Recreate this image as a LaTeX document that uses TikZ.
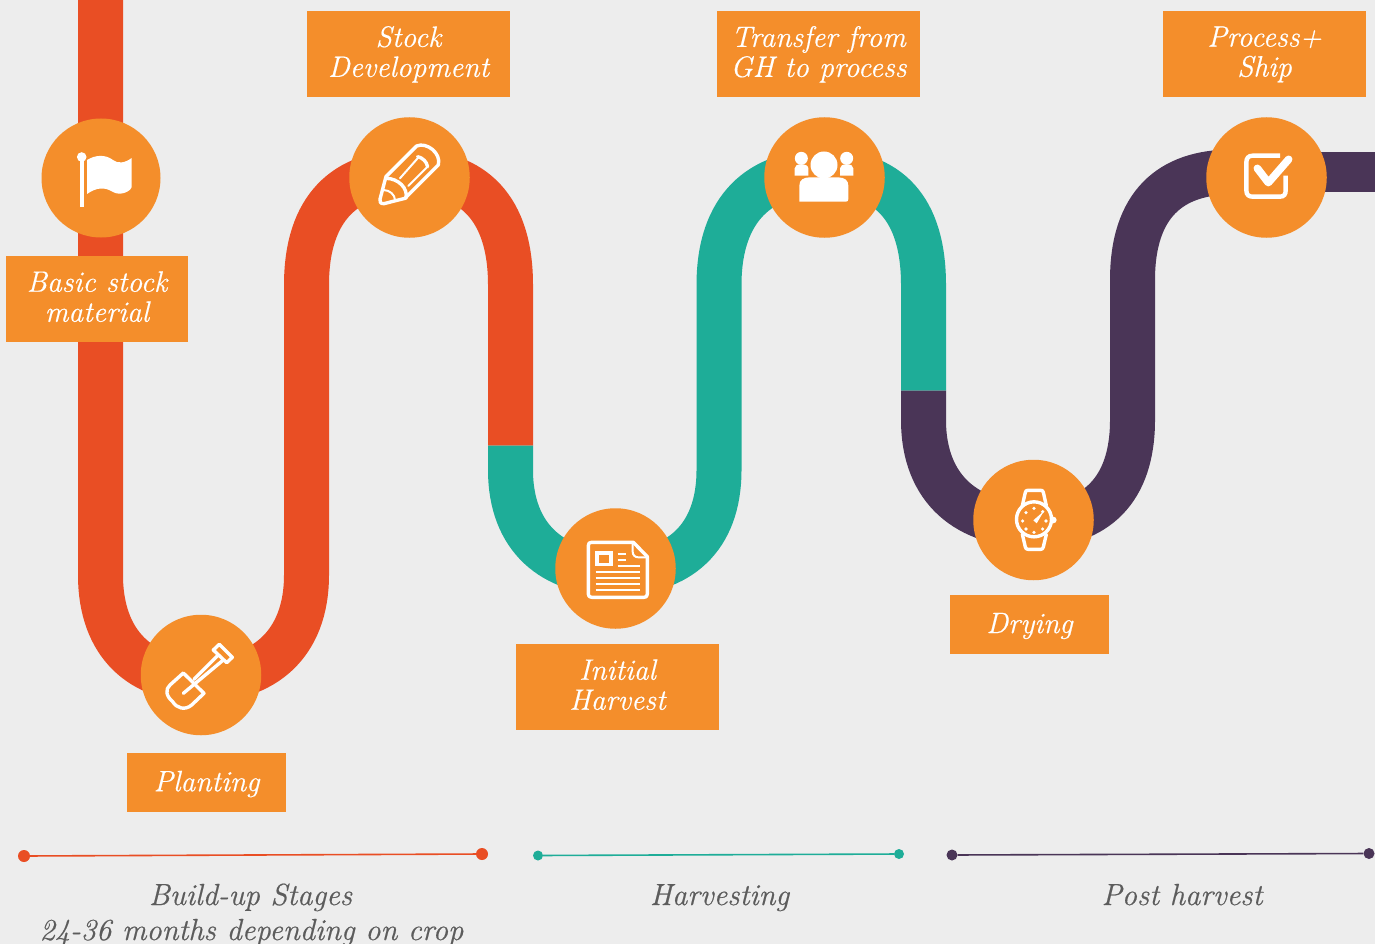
\documentclass[tikz,border=0pt]{standalone}
\usepackage{fontspec}
\setmainfont{Latin Modern Roman}[ItalicFeatures={FakeBold=0.5}]
\definecolor{bgc}{HTML}{EDEDED}
\definecolor{orangec}{HTML}{F48E2B}
\definecolor{redc}{HTML}{E94E24}
\definecolor{tealc}{HTML}{1EAD98}
\definecolor{purplec}{HTML}{4A3557}
\definecolor{textc}{HTML}{5C5C5C}
\tikzset{
  ribbon/.style={line width=45pt},
  hub/.style={circle,fill=orangec,minimum size=120.5pt,inner sep=0pt},
  tag/.style={fill=orangec,text=white,inner sep=0pt,align=center,font=\fontsize{29.5}{30}\selectfont\itshape},
  tagtwo/.style={tag,minimum height=86pt,text depth=5pt},
  tagone/.style={tag,minimum width=159pt,minimum height=59pt,text depth=3pt},
  caption/.style={text=textc,inner sep=0pt,align=center,font=\fontsize{30.5}{35}\selectfont\itshape},
  dot/.style={circle,inner sep=0pt,minimum size=11pt},
  ico/.style={draw=white,line width=3.4pt,line join=round,line cap=round},
  icot/.style={draw=white,line width=2pt,line cap=round}
}
\begin{document}
\begin{tikzpicture}[x=1pt,y=-1pt]
\useasboundingbox (0,0) rectangle (1375,944);
\fill[bgc] (0,0) rectangle (1375,944);
% ribbons
\coordinate (r0) at (100.5,-5);
\coordinate (r1) at (100.5,575);
\coordinate (r2) at (201,680);
\coordinate (r3) at (306.5,575);
\coordinate (r4) at (306.5,285);
\coordinate (r5) at (410,172);
\coordinate (r6) at (510.5,285);
\coordinate (r7) at (510.5,445.5);
\coordinate (t1) at (510.5,470);
\coordinate (t2) at (615,573);
\coordinate (t3) at (719,470);
\coordinate (t4) at (719,285);
\coordinate (t5) at (824,172);
\coordinate (t6) at (923.5,285);
\coordinate (t7) at (923.5,390.5);
\coordinate (p1) at (923.5,420);
\coordinate (p2) at (1033,525);
\coordinate (p3) at (1132.5,420);
\coordinate (p4) at (1132.5,280);
\coordinate (p5) at (1232,172);
\coordinate (p7) at (1380,172);
\draw[redc,ribbon] (r0) -- (r1) .. controls (100.5,645) and (142,680) .. (r2) .. controls (263,680) and (306.5,645) .. (r3) -- (r4) .. controls (306.5,208) and (345,172) .. (r5) .. controls (473,172) and (510.5,208) .. (r6) -- (r7);
\draw[tealc,ribbon] (r7) -- (t1) .. controls (510.5,538) and (553,573) .. (t2) .. controls (679,573) and (719,538) .. (t3) -- (t4) .. controls (719,208) and (760,172) .. (t5) .. controls (888,172) and (923.5,208) .. (t6) -- (t7);
\draw[purplec,ribbon] (t7) -- (p1) .. controls (923.5,490) and (968,525) .. (p2) .. controls (1096,525) and (1132.5,490) .. (p3) -- (p4) .. controls (1132.5,205) and (1170,172) .. (p5);
\draw[purplec,line width=40pt] (p5) -- (p7);
% hubs
\node[hub,minimum size=119pt] (h1) at (101,178) {};
\node[hub] (h2) at (409.5,177.5) {};
\node[hub] (h3) at (201,675) {};
\node[hub] (h4) at (615.5,568.5) {};
\node[hub] (h5) at (824.5,177.5) {};
\node[hub] (h6) at (1033.5,520) {};
\node[hub] (h7) at (1266.5,177.5) {};
% tags
\node[tagtwo,minimum width=182pt] (l1) at (97,299) {Basic stock\\material};
\node[tagtwo,minimum width=203pt] (l2) at (408.5,54) {Stock\\Development};
\node[tagone] (l3) at (206.5,782.5) {Planting};
\node[tagtwo,minimum width=203pt] (l4) at (617.5,687) {Initial\\Harvest};
\node[tagtwo,minimum width=203pt] (l5) at (818.5,54) {Transfer from\\GH to process};
\node[tagone] (l6) at (1029.5,624.5) {Drying};
\node[tagtwo,minimum width=203pt] (l7) at (1264.5,54) {Process+\\Ship};
% flag icon
\fill[white] (79.5,157) rectangle (84,206.5);
\fill[white] (81.7,157) circle (4.8);
\fill[white] (87,160) .. controls (95,155) and (105,154) .. (113,160) .. controls (118,164) and (125,163) .. (131.7,158) -- (131.7,187) .. controls (130,192) and (120,196) .. (113,192) .. controls (105,187) and (97,187) .. (87,194) -- cycle;
% pencil icon
\begin{scope}[shift={(30,110)},x=0.3333pt,y=-0.3333pt]
\draw[ico] (1068,200) -- (1160,108) .. controls (1190,95) and (1235,130) .. (1225,165) -- (1125,265) -- (1062,281) .. controls (1052,282) and (1048,275) .. (1050,268) -- cycle;
\draw[ico] (1068,205) .. controls (1105,205) and (1135,235) .. (1128,265);
\draw[icot] (1110,205) -- (1163,145);
\draw[ico] (1163,140) .. controls (1178,143) and (1190,155) .. (1193,170);
\draw[icot] (1135,228) -- (1193,170);
\draw[icot] (1060,240) .. controls (1080,240) and (1095,255) .. (1095,270);
\end{scope}
% shovel icon
\begin{scope}[shift={(130,610)},x=0.3333pt,y=-0.3333pt]
\draw[ico] (268,103) -- (307,142) -- (290,158) -- (250,120) -- cycle;
\draw[ico] (265,135) -- (192,208);
\draw[ico] (280,150) -- (160,250);
\draw[ico] (160,189) -- (222,250) -- (185,285) .. controls (165,302) and (140,295) .. (128,275) .. controls (108,258) and (105,238) .. (120,225) -- cycle;
\end{scope}
% newspaper icon
\begin{scope}[shift={(550,500)},x=0.3333pt,y=-0.3333pt]
\draw[ico] (125,127) -- (250,127) -- (292,170) -- (292,282) .. controls (292,290) and (288,292) .. (282,292) -- (125,292) .. controls (118,292) and (115,288) .. (115,282) -- (115,137) .. controls (115,130) and (118,127) .. (125,127) -- cycle;
\draw[icot] (248,130) -- (248,155) .. controls (248,165) and (255,172) .. (265,172) -- (290,172);
\draw[white,line width=3.6pt] (141,159) rectangle (183,193);
\foreach \yy/\xa/\xb in {161/203/228,180/203/228,198/203/270,215/137/270,234/137/270,251/137/270,269/137/270}
  \draw[white,line width=1.7pt] (\xa,\yy) -- (\xb,\yy);
\end{scope}
% people icon
\begin{scope}[shift={(760,115)},x=0.3333pt,y=-0.3333pt]
\fill[white] (192,150) circle (13.5pt);
\fill[white] (118,260) -- (118,212) .. controls (118,195) and (130,187) .. (150,187) -- (234,187) .. controls (255,187) and (265,197) .. (265,212) -- (265,252) .. controls (265,258) and (262,260) .. (258,260) -- cycle;
\fill[white] (124,130) circle (6.5pt);
\fill[white] (260,130) circle (6.5pt);
\fill[white] (104,182) -- (104,160) .. controls (104,152) and (112,148) .. (124,148) .. controls (136,148) and (145,152) .. (145,160) -- (145,182) -- cycle;
\fill[white] (240,182) -- (240,160) .. controls (240,152) and (248,148) .. (260,148) .. controls (272,148) and (280,152) .. (280,160) -- (280,182) -- cycle;
\end{scope}
% watch icon
\begin{scope}[shift={(970,455)},x=0.3333pt,y=-0.3333pt]
\draw[ico] (192,193) circle (17.5pt);
\fill[white] (250,195) circle (3.3pt);
\draw[ico] (157,152) -- (166,112) .. controls (167,107) and (170,106) .. (174,106) -- (212,106) .. controls (216,106) and (219,107) .. (220,112) -- (229,152);
\draw[ico] (157,238) -- (166,276) .. controls (167,281) and (170,283) .. (174,283) -- (212,283) .. controls (216,283) and (219,281) .. (220,276) -- (229,238);
\fill[white] (190,196) -- (222,168) -- (200,205) -- cycle;
\foreach \dx/\dy in {192/160,218/170,158/198,168/173,168/222,192/232,218/222,228/198}
  \fill[white] (\dx,\dy) circle (1.8pt);
\end{scope}
% check icon
\begin{scope}[shift={(1200,115)},x=0.3333pt,y=-0.3333pt]
\draw[white,line width=4.4pt,line cap=butt] (240,122) -- (158,122) .. controls (145,122) and (139,130) .. (139,142) -- (139,226) .. controls (139,240) and (147,245) .. (158,245) -- (240,245) .. controls (252,245) and (257,238) .. (257,226) -- (257,182);
\draw[white,line width=7.6pt,line cap=round,line join=round] (172,160) -- (205,203) -- (266,133);
\end{scope}
% timeline
\node[dot,fill=redc,minimum size=12pt] (a1) at (24,856) {};
\node[dot,fill=redc,minimum size=12pt] (a2) at (482,854) {};
\draw[redc,line width=1.6pt] (a1) -- (a2);
\node[dot,fill=tealc,minimum size=10pt] (b1) at (538,855.5) {};
\node[dot,fill=tealc,minimum size=10pt] (b2) at (899,854) {};
\draw[tealc,line width=1.6pt] (b1) -- (b2);
\node[dot,fill=purplec,minimum size=11pt] (c1) at (952,855) {};
\node[dot,fill=purplec,minimum size=11pt] (c2) at (1369,853.5) {};
\draw[purplec,line width=1.6pt] (c1) -- (c2);
\node[caption,anchor=base] (cap1) at (250.5,905) {Build-up Stages};
\node[caption,anchor=base] (cap1b) at (251.5,940) {24-36 months depending on crop};
\node[caption,anchor=base] (cap2) at (719.5,905) {Harvesting};
\node[caption,anchor=base] (cap3) at (1182,905) {Post harvest};
\end{tikzpicture}
\end{document}
